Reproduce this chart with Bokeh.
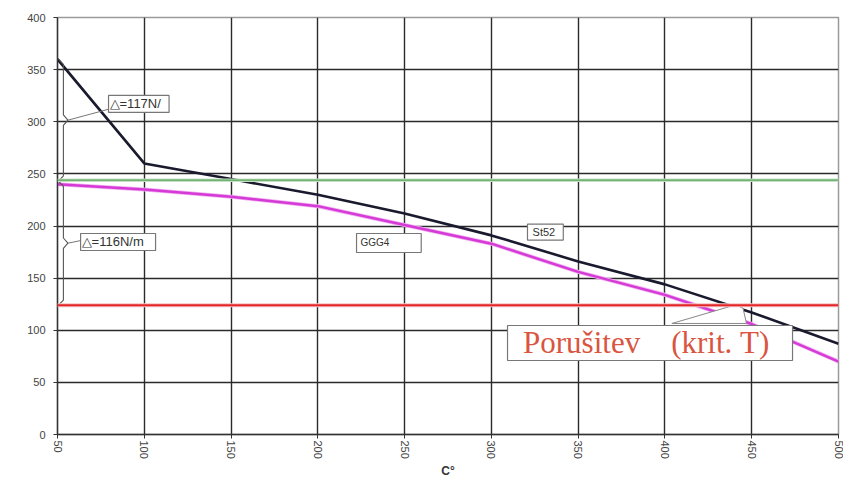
from bokeh.plotting import figure
from bokeh.models import Span, Label, FixedTicker, Range1d, ColumnDataSource
from bokeh.embed import file_html
from bokeh.resources import INLINE

# ---- data ----
temps = [50, 100, 150, 200, 250, 300, 350, 400, 450, 500]
st52 = [360, 260, 245, 230, 212, 191, 166, 144, 117, 87]
ggg4 = [240, 235, 228, 219, 201, 183, 156, 134, 106, 70]
green_level = 244
red_level = 124
x_ticks = [50, 100, 150, 200, 250, 300, 350, 400, 450, 500]
y_ticks = [0, 50, 100, 150, 200, 250, 300, 350, 400]

p = figure(width=843, height=484, output_backend="svg", toolbar_location=None,
           x_range=Range1d(50, 500), y_range=Range1d(0, 400),
           min_border_left=57, min_border_right=5, min_border_top=17, min_border_bottom=50)
p.background_fill_color = "white"
p.border_fill_color = "white"
p.outline_line_color = "#9a9a9a"
p.outline_line_width = 1.5

for g in (p.xgrid, p.ygrid):
    g.grid_line_color = "#2a2a2a"
    g.grid_line_width = 1.4
p.xaxis.ticker = FixedTicker(ticks=x_ticks)
p.yaxis.ticker = FixedTicker(ticks=y_ticks)
p.xaxis.major_label_orientation = "vertical"
for ax in (p.xaxis, p.yaxis):
    ax.axis_line_color = "#333333"
    ax.axis_line_width = 1.4
    ax.major_tick_line_color = "#333333"
    ax.major_tick_in = 0
    ax.major_tick_out = 4
    ax.minor_tick_line_color = None
    ax.major_label_text_font = "Liberation Sans"
    ax.major_label_text_font_size = "11px"
    ax.major_label_text_color = "#444444"
p.xaxis.major_label_standoff = 2
p.yaxis.major_label_standoff = 8
p.xaxis.axis_label = "C°"
p.xaxis.axis_label_text_font = "Liberation Sans"
p.xaxis.axis_label_text_font_style = "bold"
p.xaxis.axis_label_text_font_size = "12px"
p.xaxis.axis_label_text_color = "#333333"
p.xaxis.axis_label_standoff = 2

# reference levels
p.add_layout(Span(location=green_level, dimension="width", line_color="#c6e2c6", line_width=3.5))
p.add_layout(Span(location=green_level, dimension="width", line_color="#55a055", line_width=1.4))
p.add_layout(Span(location=red_level, dimension="width", line_color="#f4c0c0", line_width=4))
p.add_layout(Span(location=red_level, dimension="width", line_color="#e3262a", line_width=2.2))

src = ColumnDataSource(dict(t=temps, st52=st52, ggg4=ggg4))
p.line("t", "ggg4", source=src, line_color="#f2b0f2", line_width=4)
p.line("t", "ggg4", source=src, line_color="#d63ad6", line_width=2.4)
p.line("t", "st52", source=src, line_color="#1a1a2e", line_width=2.6)

# braces and leader lines
def brace(top, bottom, x_end=50.6, x0=53.4, x_cusp=56.0, d=5):
    mid = (top + bottom) / 2
    xs = [x_end, x0, x0, x_cusp, x0, x0, x_end]
    ys = [top, top - d, mid + d, mid, mid - d, bottom + d, bottom]
    return xs, ys, mid

xs, ys, m1 = brace(st52[0], green_level - 1)
p.line(xs, ys, line_color="#555555", line_width=1.1)
p.line([56.0, 79.4], [m1, 312], line_color="#777777", line_width=1)
xs, ys, m2 = brace(green_level - 1, red_level)
p.line(xs, ys, line_color="#555555", line_width=1.1)
p.line([56.0, 63.3], [m2, 186], line_color="#777777", line_width=1)

# callout wedge to critical point
p.patch([404, 441, 445, 447], [106.5, 124.5, 121, 106.5],
        fill_color="white", line_color="#888888", line_width=1)

NB = "\u00a0"

def box(x, y, text, size="10px", color="#333333", font="Liberation Sans", pad=3):
    lab = Label(x=x, y=y, text=text, text_font=font, text_font_size=size,
                text_color=color, background_fill_color="white",
                border_line_color="#777777", border_line_width=1.2, padding=pad)
    p.add_layout(lab)

box(79.4, 308.9, "△=117N/" + NB * 2, size="13px", pad=1)
box(63.3, 176.5, "△=116N/m" + NB * 3, size="13px", pad=1)
box(222.3, 174.6, "GGG4" + NB * 10, size="10px", pad=4)
box(320.8, 186.5, NB + "St52" + NB * 2, size="11px", pad=2)
box(309.3, 71, NB * 2 + "Porušitev" + NB * 4 + "(krit." + NB + "T)" + NB * 3, size="31px",
    color="#d9553f", font="Liberation Serif", pad=0)

open("out.html", "w").write(file_html(p, INLINE))
